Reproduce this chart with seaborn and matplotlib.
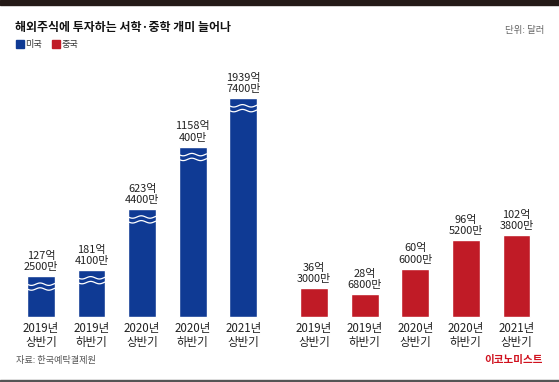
import numpy as np
import pandas as pd
import matplotlib
matplotlib.use("Agg")
import matplotlib.pyplot as plt
import seaborn as sns

# --- dados ---
periods = ['2019년\n상반기', '2019년\n하반기', '2020년\n상반기', '2020년\n하반기', '2021년\n상반기']
us_labels = ['127억\n2500만', '181억\n4100만', '623억\n4400만', '1158억\n400만', '1939억\n7400만']
cn_labels = ['36억\n3000만', '28억\n6800만', '60억\n6000만', '96억\n5200만', '102억\n3800만']
# 미국: 물결(생략) 표시된 막대 높이 (억 달러 환산, 그림에서 읽음)
us_heights = [51, 59, 135, 213, 274]
cn_values = [36.30, 28.68, 60.60, 96.52, 102.38]

BLUE = '#0f3a94'
RED = '#c01b26'

sns.set_theme(style='white')
plt.rcParams['font.family'] = ['Noto Sans CJK KR', 'DejaVu Sans']

us_pos = np.arange(5)
cn_pos = np.arange(5) + 5.4
df = pd.DataFrame({
    'pos': np.concatenate([us_pos, cn_pos]),
    'height': us_heights + cn_values,
    'country': ['미국'] * 5 + ['중국'] * 5,
})

fig = plt.figure(figsize=(5.59, 3.82), dpi=100)
ax = fig.add_axes([0, 0, 1, 1])
sns.barplot(data=df, x='pos', y='height', hue='country', palette=[BLUE, RED],
            native_scale=True, dodge=False, width=0.55, legend=False,
            saturation=1, ax=ax)

ax.set_xlim(-0.81, 10.24)
ax.set_ylim(-81.25, 396.25)
ax.axis('off')

# --- 물결 표시 ---
w = 0.55
for p, h in zip(us_pos, us_heights):
    xs = np.linspace(p - w / 2, p + w / 2, 60)
    for off in (10, 16):
        ys = h - off + 1.5 * np.sin(np.pi + 2 * np.pi * 1.6 * (xs - (p - w / 2)) / w)
        ax.plot(xs, ys, color='white', lw=0.9)

# --- rótulos de valores ---
for p, h, lab in zip(us_pos, us_heights, us_labels):
    ax.text(p, h + 5, lab, ha='center', va='bottom', fontsize=7.9,
            color='#222222', linespacing=1.15)
for p, h, lab in zip(cn_pos, cn_values, cn_labels):
    ax.text(p, h + 5, lab, ha='center', va='bottom', fontsize=7.9,
            color='#222222', linespacing=1.15)

# --- rótulos de categorias ---
for p, lab in zip(np.concatenate([us_pos, cn_pos]), periods * 2):
    ax.text(p, -6, lab, ha='center', va='top', fontsize=8.3,
            color='#222222', linespacing=1.1)

# --- título, legenda, notas ---
H = 382.0
W = 559.0
fig.text(15 / W, 1 - 28 / H, '해외주식에 투자하는 서학·중학 개미 늘어나', ha='left', va='center',
         fontsize=8.6, fontweight='bold', color='#111111')
fig.text(544 / W, 1 - 30 / H, '단위: 달러', ha='right', va='center', fontsize=6.8, color='#666666')

fig.patches.append(plt.Rectangle((16 / W, 1 - 48 / H), 8 / W, 8 / H, transform=fig.transFigure,
                                 color=BLUE))
fig.text(25 / W, 1 - 44.5 / H, '미국', ha='left', va='center', fontsize=6.6, color='#333333')
fig.patches.append(plt.Rectangle((52 / W, 1 - 48 / H), 8 / W, 8 / H, transform=fig.transFigure,
                                 color=RED))
fig.text(62 / W, 1 - 44.5 / H, '중국', ha='left', va='center', fontsize=6.6, color='#333333')

fig.text(16 / W, 1 - 360 / H, '자료: 한국예탁결제원', ha='left', va='center', fontsize=6.6, color='#555555')
fig.text(543 / W, 1 - 360 / H, '이코노미스트', ha='right', va='center', fontsize=7.6,
         fontweight='bold', color='#d0121f')

# barras do topo e do rodapé
fig.patches.append(plt.Rectangle((0, 1 - 5 / H), 1, 5 / H, transform=fig.transFigure,
                                 color='#241a17'))
fig.patches.append(plt.Rectangle((0, 0), 1, 2 / H, transform=fig.transFigure,
                                 color='#555555'))

fig.savefig('out.png', dpi=100)
